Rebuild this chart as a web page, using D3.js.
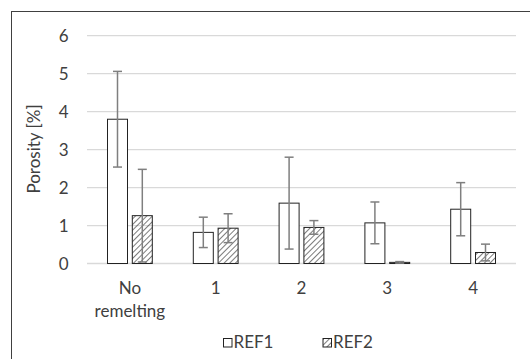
<!DOCTYPE html>
<html>
<head>
<meta charset="utf-8">
<script src="https://cdn.jsdelivr.net/npm/d3@7"></script>
<style>
  body { margin: 0; background: white; }
  text { font-family: Lato, "Open Sans", sans-serif; fill: #404040; }
</style>
</head>
<body>
<script>
const categories = ['No remelting', '1', '2', '3', '4']
const series = ['REF1', 'REF2']
const ref1 = [3.80, 0.82, 1.59, 1.07, 1.43]
const ref1Err = [1.26, 0.40, 1.21, 0.55, 0.70]
const ref2 = [1.26, 0.93, 0.95, 0.03, 0.29]
const ref2Err = [1.22, 0.38, 0.18, 0.02, 0.22]
const yTicks = [0, 1, 2, 3, 4, 5, 6]

function main() {
    const width = 530
    const height = 359
    const svg = d3.select('body').append('svg')
        .attr('width', width)
        .attr('height', height)

    // hatch for REF2
    const defs = svg.append('defs')
    defs.append('pattern')
        .attr('id', 'hatch')
        .attr('patternUnits', 'userSpaceOnUse')
        .attr('width', 4)
        .attr('height', 4)
        .attr('patternTransform', 'rotate(45)')
        .append('line')
        .attr('x1', 0).attr('y1', 0)
        .attr('x2', 0).attr('y2', 4)
        .attr('stroke', '#222')
        .attr('stroke-width', 1.2)

    // chart border (only left/top are visible in frame)
    svg.append('rect')
        .attr('x', 11.5).attr('y', 11.5)
        .attr('width', 530).attr('height', 360)
        .attr('fill', 'white')
        .attr('stroke', '#404040')
        .attr('stroke-width', 1)

    const left = 87, right = 516
    const x = d3.scaleBand().domain(categories).range([left, right])
    const y = d3.scaleLinear().domain([0, 6]).range([263.5, 35.7])

    svg.append('g').selectAll('line')
        .data(yTicks)
        .enter().append('line')
        .attr('x1', left).attr('x2', right)
        .attr('y1', d => y(d)).attr('y2', d => y(d))
        .attr('stroke', '#d9d9d9')
        .attr('stroke-width', 1.3)

    svg.append('g').selectAll('text')
        .data(yTicks)
        .enter().append('text')
        .attr('x', 68.5)
        .attr('y', d => y(d) + 6)
        .attr('text-anchor', 'end')
        .attr('font-size', '17px')
        .text(d => d)

    svg.append('text')
        .attr('transform', 'translate(39.5,' + 149 + ') rotate(-90)')
        .attr('text-anchor', 'middle')
        .attr('font-size', '17px')
        .text('Porosity [%]')

    const barW = 20
    const offsets = [-12.4, 12.4]
    const data = []
    categories.forEach((c, i) => {
        data.push({ c: c, s: 0, v: ref1[i], e: ref1Err[i] })
        data.push({ c: c, s: 1, v: ref2[i], e: ref2Err[i] })
    })
    const cx = d => x(d.c) + x.bandwidth() / 2 + offsets[d.s]

    svg.append('g').selectAll('rect')
        .data(data)
        .enter().append('rect')
        .attr('x', d => cx(d) - barW / 2)
        .attr('y', d => y(d.v))
        .attr('width', barW)
        .attr('height', d => y(0) - y(d.v))
        .attr('fill', d => d.s == 0 ? 'white' : 'url(#hatch)')
        .attr('stroke', '#222')
        .attr('stroke-width', 1)

    const err = svg.append('g').selectAll('g')
        .data(data)
        .enter().append('g')
        .attr('stroke', '#7f7f7f')
        .attr('stroke-width', 1.5)
    err.append('line')
        .attr('x1', cx).attr('x2', cx)
        .attr('y1', d => y(d.v + d.e))
        .attr('y2', d => y(Math.max(0, d.v - d.e)))
    err.append('line')
        .attr('x1', d => cx(d) - 4.5).attr('x2', d => cx(d) + 4.5)
        .attr('y1', d => y(d.v + d.e)).attr('y2', d => y(d.v + d.e))
    err.append('line')
        .attr('x1', d => cx(d) - 4.5).attr('x2', d => cx(d) + 4.5)
        .attr('y1', d => y(Math.max(0, d.v - d.e))).attr('y2', d => y(Math.max(0, d.v - d.e)))

    // category labels
    const labels = svg.append('g').selectAll('text')
        .data(categories)
        .enter().append('text')
        .attr('x', d => x(d) + x.bandwidth() / 2)
        .attr('y', 293.5)
        .attr('text-anchor', 'middle')
        .attr('font-size', '17px')
    labels.each(function (d) {
        const parts = d == 'No remelting' ? ['No', 'remelting'] : [d]
        parts.forEach((p, i) => {
            d3.select(this).append('tspan')
                .attr('x', x(d) + x.bandwidth() / 2)
                .attr('dy', i == 0 ? 0 : 23.8)
                .text(p)
        })
    })

    // legend
    const legX = [223.5, 323]
    series.forEach((s, i) => {
        svg.append('rect')
            .attr('x', legX[i]).attr('y', 338.5)
            .attr('width', 8.5).attr('height', 8.5)
            .attr('fill', i == 0 ? 'white' : 'url(#hatch)')
            .attr('stroke', '#222')
            .attr('stroke-width', 1)
        svg.append('text')
            .attr('x', legX[i] + 10)
            .attr('y', 347.5)
            .attr('font-size', '17px')
            .text(s)
    })
}

main()
</script>
</body>
</html>
